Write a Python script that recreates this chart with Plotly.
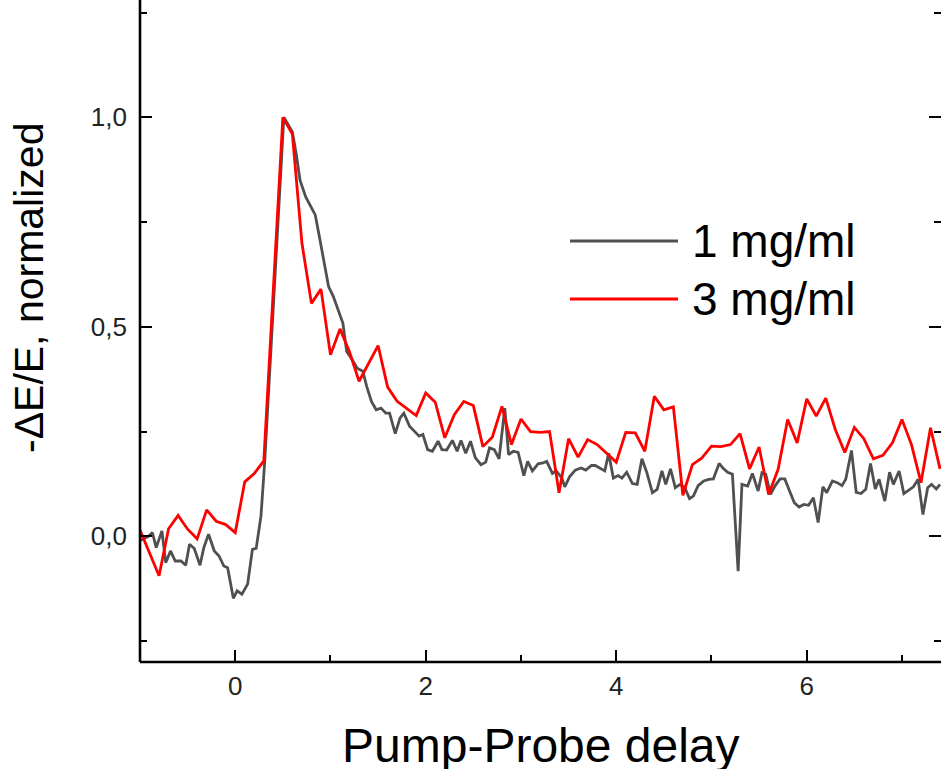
import plotly.graph_objects as go

# ---- data ----
x_1mg = [-1.00, -0.95, -0.91, -0.87, -0.83, -0.77, -0.73, -0.68, -0.63, -0.57, -0.52, -0.48, -0.43, -0.37,
         -0.33, -0.28, -0.22, -0.17, -0.12, -0.08, -0.02, 0.02, 0.07, 0.13, 0.18, 0.22, 0.27, 0.31, 0.36,
         0.41, 0.46, 0.51, 0.55, 0.60, 0.64, 0.68, 0.74, 0.79, 0.84, 0.89, 0.93, 0.98, 1.03, 1.07, 1.13,
         1.17, 1.23, 1.28, 1.34, 1.38, 1.43, 1.48, 1.53, 1.58, 1.62, 1.68, 1.73, 1.77, 1.83, 1.88, 1.93,
         1.97, 2.02, 2.07, 2.13, 2.17, 2.22, 2.28, 2.33, 2.37, 2.42, 2.47, 2.52, 2.58, 2.63, 2.67, 2.72,
         2.77, 2.83, 2.87, 2.92, 2.97, 3.03, 3.07, 3.12, 3.18, 3.23, 3.27, 3.33, 3.37, 3.43, 3.46, 3.51,
         3.57, 3.63, 3.68, 3.74, 3.78, 3.83, 3.88, 3.92, 3.97, 4.02, 4.06, 4.11, 4.17, 4.22, 4.27, 4.32,
         4.38, 4.43, 4.48, 4.52, 4.57, 4.62, 4.67, 4.72, 4.77, 4.81, 4.86, 4.92, 4.97, 5.02, 5.08, 5.12,
         5.17, 5.22, 5.28, 5.32, 5.36, 5.38, 5.43, 5.49, 5.53, 5.57, 5.62, 5.67, 5.72, 5.77, 5.82, 5.87,
         5.92, 5.97, 6.02, 6.07, 6.12, 6.17, 6.21, 6.27, 6.32, 6.37, 6.41, 6.47, 6.52, 6.57, 6.62, 6.67,
         6.72, 6.76, 6.82, 6.87, 6.91, 6.97, 7.02, 7.07, 7.12, 7.17, 7.22, 7.27, 7.31, 7.36, 7.40]
y_1mg = [-0.010, -0.005, 0.000, 0.009, -0.027, 0.013, -0.063, -0.035, -0.059, -0.059, -0.069, -0.019, -0.029, -0.069,
         -0.027, 0.005, -0.035, -0.047, -0.071, -0.075, -0.148, -0.130, -0.138, -0.114, -0.031, -0.029, 0.048, 0.180, 0.380,
         0.580, 0.800, 1.000, 0.985, 0.965, 0.913, 0.850, 0.810, 0.788, 0.767, 0.707, 0.660, 0.596, 0.572, 0.548, 0.509,
         0.441, 0.421, 0.401, 0.394, 0.358, 0.322, 0.302, 0.306, 0.294, 0.294, 0.245, 0.282, 0.294, 0.263, 0.251, 0.239,
         0.243, 0.207, 0.203, 0.227, 0.207, 0.206, 0.229, 0.203, 0.229, 0.198, 0.227, 0.188, 0.171, 0.177, 0.211, 0.207,
         0.185, 0.306, 0.195, 0.203, 0.200, 0.145, 0.179, 0.156, 0.173, 0.175, 0.179, 0.150, 0.156, 0.139, 0.118, 0.142,
         0.158, 0.163, 0.158, 0.169, 0.169, 0.163, 0.156, 0.198, 0.139, 0.145, 0.139, 0.153, 0.126, 0.124, 0.185, 0.153,
         0.104, 0.112, 0.156, 0.124, 0.161, 0.116, 0.124, 0.116, 0.090, 0.096, 0.121, 0.132, 0.136, 0.137, 0.174, 0.163,
         0.153, 0.148, -0.083, 0.124, 0.121, 0.120, 0.150, 0.108, 0.152, 0.148, 0.100, 0.121, 0.137, 0.137, 0.108, 0.080,
         0.070, 0.076, 0.074, 0.092, 0.033, 0.118, 0.104, 0.132, 0.128, 0.121, 0.136, 0.205, 0.105, 0.102, 0.112, 0.174,
         0.113, 0.136, 0.084, 0.153, 0.124, 0.156, 0.102, 0.110, 0.118, 0.136, 0.052, 0.116, 0.124, 0.113, 0.124]

x_3mg = [-1.0, -0.8, -0.7, -0.6, -0.5, -0.4, -0.3, -0.2, -0.1, 0.0, 0.1, 0.2, 0.3, 0.5, 0.6, 0.7, 0.8, 0.9,
         1.0, 1.1, 1.2, 1.3, 1.5, 1.6, 1.7, 1.8, 1.9, 2.0, 2.1, 2.2, 2.3, 2.4, 2.5, 2.6, 2.7, 2.8, 2.9,
         3.0, 3.1, 3.2, 3.3, 3.4, 3.5, 3.6, 3.7, 3.8, 3.9, 4.0, 4.1, 4.2, 4.3, 4.4, 4.5, 4.6, 4.7, 4.8,
         4.9, 5.0, 5.1, 5.2, 5.3, 5.4, 5.5, 5.6, 5.7, 5.8, 5.9, 6.0, 6.1, 6.2, 6.3, 6.4, 6.5, 6.6, 6.7,
         6.8, 6.9, 7.0, 7.1, 7.2, 7.3, 7.4]
y_3mg = [0.015, -0.094, 0.018, 0.050, 0.017, -0.006, 0.063, 0.036, 0.028, 0.009, 0.130, 0.150, 0.180, 1.000, 0.960,
         0.700, 0.556, 0.590, 0.433, 0.495, 0.440, 0.370, 0.455, 0.356, 0.322, 0.306, 0.288, 0.342, 0.320, 0.235,
         0.290, 0.322, 0.312, 0.214, 0.237, 0.310, 0.219, 0.280, 0.250, 0.248, 0.250, 0.104, 0.233, 0.189, 0.231,
         0.219, 0.198, 0.177, 0.248, 0.247, 0.203, 0.334, 0.302, 0.309, 0.098, 0.171, 0.187, 0.215, 0.214, 0.219,
         0.245, 0.161, 0.213, 0.100, 0.160, 0.279, 0.223, 0.328, 0.287, 0.330, 0.255, 0.200, 0.260, 0.233, 0.185,
         0.193, 0.223, 0.279, 0.219, 0.128, 0.259, 0.161]

series_names = ["1 mg/ml", "3 mg/ml"]
series_colors = ["#505050", "#ff0000"]
x_title = "Pump-Probe delay"
y_title = "-ΔE/E, normalized"

FONT = "Liberation Sans, Arial, sans-serif"

fig = go.Figure()
fig.add_trace(go.Scatter(x=x_1mg, y=y_1mg, mode="lines", name=series_names[0],
                         line=dict(color=series_colors[0], width=2.8), showlegend=False))
fig.add_trace(go.Scatter(x=x_3mg, y=y_3mg, mode="lines", name=series_names[1],
                         line=dict(color=series_colors[1], width=2.8), showlegend=False))

W, H = 941, 769
ml, mr, mt, mb = 140, 0, 0, 107
pw, ph = W - ml - mr, H - mt - mb

def px(xp):
    return (xp - ml) / pw

def py(yp):
    return (H - mb - yp) / ph

axis_common = dict(showline=False,
                   ticks="inside", ticklen=12, tickwidth=2.2, tickcolor="black",
                   showgrid=False, zeroline=False,
                   tickfont=dict(family=FONT, size=26, color="#222"))

fig.update_xaxes(range=[-1.0, 7.41], tick0=0, dtick=2, mirror=False,
                 minor=dict(ticks="inside", ticklen=7, tickwidth=2.2, tickcolor="black", dtick=1, tick0=0),
                 ticklabelstandoff=6, **axis_common)
fig.update_yaxes(range=[-0.3, 1.28], tick0=0, dtick=0.5, tickformat=".1f", mirror="allticks",
                 minor=dict(ticks="inside", ticklen=7, tickwidth=2.2, tickcolor="black", dtick=0.25, tick0=0),
                 ticklabelstandoff=12, **axis_common)

annotations = [
    dict(text=y_title, x=px(29), y=py(288), xref="paper", yref="paper", textangle=-90,
         showarrow=False, xanchor="center", yanchor="middle",
         font=dict(family=FONT, size=41, color="black")),
    dict(text=x_title, x=0.5, y=py(745), xref="paper", yref="paper",
         showarrow=False, xanchor="center", yanchor="middle",
         font=dict(family=FONT, size=48, color="black")),
]
# left and bottom axis lines (frame is open at top/right in the view)
shapes = [
    dict(type="line", xref="paper", yref="paper", x0=0, x1=0, y0=0, y1=1,
         line=dict(color="black", width=2.6)),
    dict(type="line", xref="paper", yref="paper", x0=0, x1=1, y0=0, y1=0,
         line=dict(color="black", width=2.6)),
]
for i, (name, col) in enumerate(zip(series_names, series_colors)):
    ly = [241, 299][i]
    shapes.append(dict(type="line", xref="paper", yref="paper", x0=px(570), x1=px(678),
                       y0=py(ly), y1=py(ly), line=dict(color=col, width=2.8)))
    annotations.append(dict(text=name, x=px(690), y=py(ly), xref="paper", yref="paper",
                            showarrow=False, xanchor="left", yanchor="middle",
                            font=dict(family=FONT, size=46, color="black")))

fig.update_layout(width=W, height=H, margin=dict(l=ml, r=mr, t=mt, b=mb),
                  paper_bgcolor="white", plot_bgcolor="white", separators=",.",
                  annotations=annotations, shapes=shapes,
                  font=dict(family=FONT))

fig.write_html("out.html", config={"displayModeBar": False},
               post_script="document.body.style.margin='0';document.body.style.overflow='hidden';")
